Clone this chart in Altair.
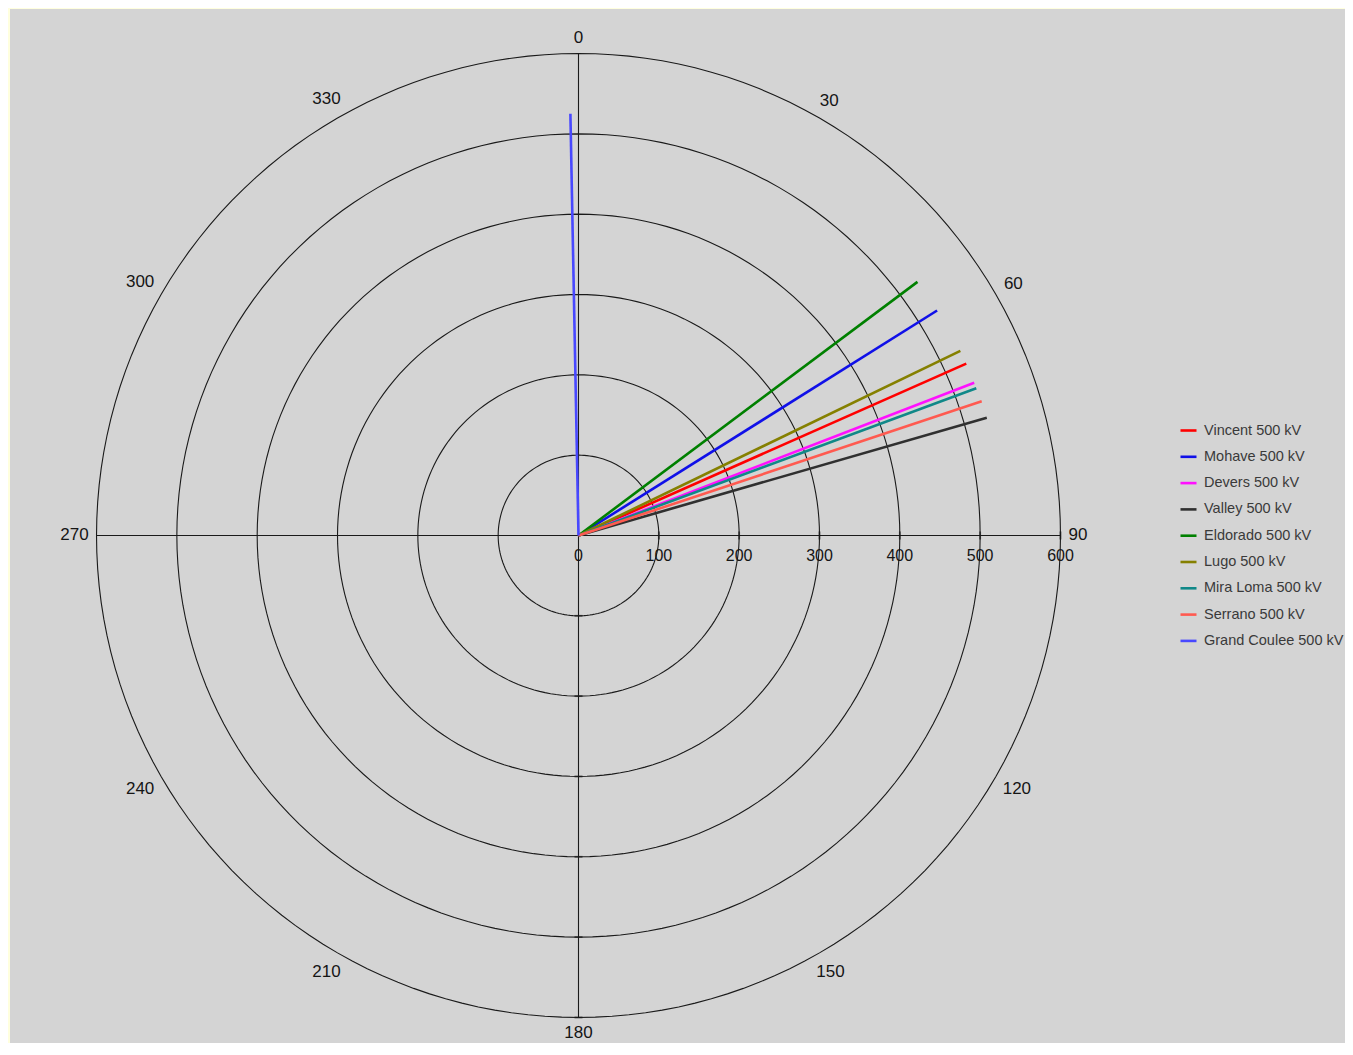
import numpy as np
import pandas as pd
import altair as alt

# ---- data ----
stations = ["Vincent 500 kV", "Mohave 500 kV", "Devers 500 kV", "Valley 500 kV",
            "Eldorado 500 kV", "Lugo 500 kV", "Mira Loma 500 kV", "Serrano 500 kV",
            "Grand Coulee 500 kV"]
magnitudes = [528, 527, 528, 529, 527, 528, 528, 529, 525]
angles_deg = [66.1, 57.9, 68.9, 73.9, 53.2, 64.2, 69.7, 71.6, -1.1]
colors = ["#FF0000", "#1010E8", "#FF10FF", "#303030", "#008000", "#858000",
          "#108888", "#FF5A50", "#4848FF"]

ring_radii = [100, 200, 300, 400, 500, 600]
radial_labels = [0, 100, 200, 300, 400, 500, 600]
angle_labels = [0, 30, 60, 90, 120, 150, 180, 210, 240, 270, 300, 330]

R = max(ring_radii)
FONT = "Liberation Sans"
GRID = "#1a1a1a"

W, H = 1335, 1034
PX = 0.8033  # pixels per data unit
xs = alt.Scale(domain=[-707.7, (W - 568.5) / PX], nice=False, zero=False)
ys = alt.Scale(domain=[-631.8, 655.4], nice=False, zero=False)

# ---- derived tables ----
phasors = pd.DataFrame({"station": stations, "mag": magnitudes, "ang": angles_deg})

ring_rows = []
for r in ring_radii:
    for a in np.arange(0, 361, 2):
        ring_rows.append({"r": r, "a": float(a)})
rings = pd.DataFrame(ring_rows)

radial_df = pd.DataFrame({"r": radial_labels, "label": [str(v) for v in radial_labels]})
angle_df = pd.DataFrame({"a": angle_labels, "label": [str(v) for v in angle_labels]})
tick_df = pd.DataFrame({"r": ring_radii})
cross_df = pd.DataFrame({"x": [-R, 0], "y": [0, -R], "x2": [R, 0], "y2": [0, R]})

ring_layer = alt.Chart(rings).transform_calculate(
    x="datum.r*sin(datum.a*PI/180)", y="datum.r*cos(datum.a*PI/180)"
).mark_line(color=GRID, strokeWidth=1.1).encode(
    x=alt.X("x:Q", scale=xs, axis=None),
    y=alt.Y("y:Q", scale=ys, axis=None),
    detail="r:N",
    order="a:Q",
)

cross_layer = alt.Chart(cross_df).mark_rule(color=GRID, strokeWidth=1.1).encode(
    x=alt.X("x:Q", scale=xs, axis=None), y=alt.Y("y:Q", scale=ys, axis=None),
    x2="x2:Q", y2="y2:Q",
)

htick = alt.Chart(tick_df).transform_calculate(z="0").mark_tick(
    orient="vertical", size=8, thickness=1.8, color=GRID
).encode(x=alt.X("r:Q", scale=xs, axis=None), y=alt.Y("z:Q", scale=ys, axis=None))

vtick = alt.Chart(tick_df).transform_calculate(z="0", ny="-datum.r").mark_tick(
    orient="horizontal", size=8, thickness=1.8, color=GRID
).encode(x=alt.X("z:Q", scale=xs, axis=None), y=alt.Y("ny:Q", scale=ys, axis=None))

radial_text = alt.Chart(radial_df).transform_calculate(z="0").mark_text(
    font=FONT, fontSize=16, color="#151515", dy=21, align="center", baseline="middle"
).encode(x=alt.X("r:Q", scale=xs, axis=None), y=alt.Y("z:Q", scale=ys, axis=None),
         text="label:N")

# angle labels sit just outside the outer ring, pushed out by half their box
angle_text = alt.Chart(angle_df).transform_calculate(
    rr=f"({R}*{PX} + 8 + abs(sin(datum.a*PI/180))*4.7*length(datum.label)"
       f" + abs(cos(datum.a*PI/180))*8)/{PX}",
).transform_calculate(
    x="datum.rr*sin(datum.a*PI/180)", y="datum.rr*cos(datum.a*PI/180)"
).mark_text(font=FONT, fontSize=17, color="#151515", align="center", baseline="middle").encode(
    x=alt.X("x:Q", scale=xs, axis=None), y=alt.Y("y:Q", scale=ys, axis=None),
    text="label:N")

phasor_layer = alt.Chart(phasors).transform_calculate(
    x0="0", y0="0",
    x1="datum.mag*sin(datum.ang*PI/180)", y1="datum.mag*cos(datum.ang*PI/180)"
).mark_rule(strokeWidth=2.6).encode(
    x=alt.X("x0:Q", scale=xs, axis=None), y=alt.Y("y0:Q", scale=ys, axis=None),
    x2="x1:Q", y2="y1:Q",
    color=alt.Color("station:N", sort=stations,
                    scale=alt.Scale(domain=stations, range=colors),
                    legend=alt.Legend(title=None, orient="none", legendX=1169, legendY=412,
                                      symbolType="stroke", symbolSize=256,
                                      symbolStrokeWidth=2.6, labelFont=FONT,
                                      labelFontSize=14.5, labelColor="#3a3a3a",
                                      rowPadding=10.3, labelOffset=6,
                                      labelLimit=300)),
)

chart = alt.layer(
    ring_layer, cross_layer, htick, vtick, phasor_layer, radial_text, angle_text
).properties(
    width=W, height=H,
    autosize=alt.AutoSizeParams(type="none"),
    padding={"left": 2, "top": 1, "right": 0, "bottom": 0},
).configure(background="#FFFFDE").configure_view(fill="#D4D4D4", stroke=None)

chart.save("out.html", embed_options={"renderer": "svg", "actions": False})
